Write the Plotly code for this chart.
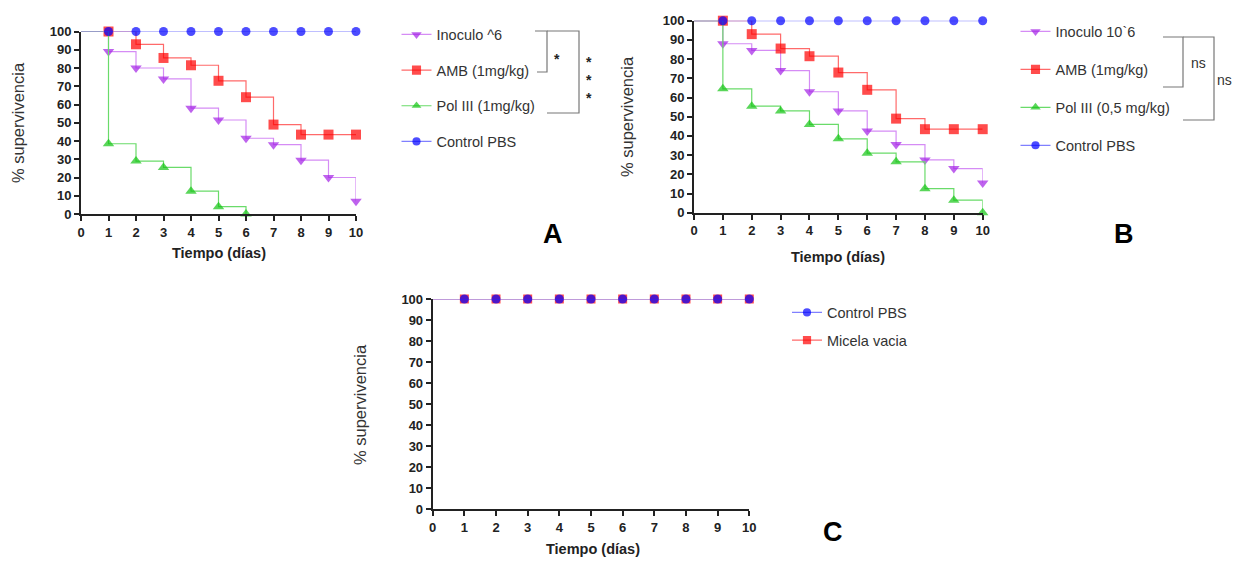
import plotly.graph_objects as go

# ---------------- data ----------------
days = [0, 1, 2, 3, 4, 5, 6, 7, 8, 9, 10]
x_ticks = [0, 1, 2, 3, 4, 5, 6, 7, 8, 9, 10]
y_ticks = [0, 10, 20, 30, 40, 50, 60, 70, 80, 90, 100]

# Panel A
A_inoculo = [100, 89, 80, 74, 58, 51.5, 41.5, 38, 29.5, 20, 7]
A_amb = [100, 100, 93, 85.5, 81.5, 73, 64, 49, 43.5, 43.5, 43.5]
A_pol_days = [0, 1, 2, 3, 4, 5, 6]
A_pol = [100, 38.5, 29, 25.5, 12.5, 4, 0]
A_ctrl = [100, 100, 100, 100, 100, 100, 100, 100, 100, 100, 100]

# Panel B
B_inoculo = [100, 88, 84.5, 74, 63, 53, 42.5, 35.5, 27.5, 23, 15.5]
B_amb = [100, 100, 93, 85.5, 81.5, 73, 64, 49, 43.5, 43.5, 43.5]
B_pol = [100, 64.5, 55.5, 53, 46, 38.5, 31, 26.5, 12.5, 6.5, 0]
B_ctrl = [100, 100, 100, 100, 100, 100, 100, 100, 100, 100, 100]

# Panel C
C_ctrl = [100, 100, 100, 100, 100, 100, 100, 100, 100, 100, 100]
C_micela = [100, 100, 100, 100, 100, 100, 100, 100, 100, 100, 100]

names_A = ["Inoculo ^6", "AMB (1mg/kg)", "Pol III (1mg/kg)", "Control PBS"]
names_B = ["Inoculo 10`6", "AMB (1mg/kg)", "Pol III (0,5 mg/kg)", "Control PBS"]
names_C = ["Control PBS", "Micela vacia"]

# ---------------- styles ----------------
# page body has an 8px margin; the figure fills the rest of the 1241x565 window
OFF = 8
W, H = 1241 - 2 * OFF, 565 - 2 * OFF
FONT = "Arial, Liberation Sans, sans-serif"
PURPLE, PURPLE_L = "#A21FE6", "#D58CF5"
RED, RED_L = "#FF0000", "#FF6A6A"
GREEN, GREEN_L = "#14C414", "#6ADB6A"
BLUE, BLUE_L = "#0000FF", "#8080FF"


def msizes(n, s):
    return [0] + [s] * (n - 1)


def px(x):
    return (x - OFF) / W


def py(y):
    return 1 - (y - OFF) / H


fig = go.Figure()


def add_series(xs, ys, name, color, lcolor, symbol, size, xa, ya, legend, rank):
    fig.add_trace(go.Scatter(
        x=xs, y=ys, name=name, mode="lines+markers",
        line=dict(shape="hv", color=lcolor, width=1.2),
        marker=dict(symbol=symbol, color=color, size=msizes(len(xs), size),
                    line=dict(width=0)),
        xaxis=xa, yaxis=ya, legend=legend, legendrank=rank,
        legendgroup=legend + name, cliponaxis=False, showlegend=True,
    ))


# Panel A
add_series(days, A_inoculo, names_A[0], PURPLE, PURPLE_L, "triangle-down", 10, "x", "y", "legend", 1)
add_series(days, A_amb, names_A[1], RED, RED_L, "square", 10, "x", "y", "legend", 2)
add_series(A_pol_days, A_pol, names_A[2], GREEN, GREEN_L, "triangle-up", 10, "x", "y", "legend", 3)
add_series(days, A_ctrl, names_A[3], BLUE, BLUE_L, "circle", 9, "x", "y", "legend", 4)

# Panel B
add_series(days, B_inoculo, names_B[0], PURPLE, PURPLE_L, "triangle-down", 10, "x2", "y2", "legend2", 1)
add_series(days, B_amb, names_B[1], RED, RED_L, "square", 10, "x2", "y2", "legend2", 2)
add_series(days, B_pol, names_B[2], GREEN, GREEN_L, "triangle-up", 10, "x2", "y2", "legend2", 3)
add_series(days, B_ctrl, names_B[3], BLUE, BLUE_L, "circle", 9, "x2", "y2", "legend2", 4)

# Panel C (red underneath blue)
add_series(days, C_micela, names_C[1], RED, RED_L, "square", 9, "x3", "y3", "legend3", 2)
add_series(days, C_ctrl, names_C[0], BLUE, BLUE_L, "circle", 9, "x3", "y3", "legend3", 1)

# ---------------- axes ----------------
tickfont = dict(family=FONT, size=13, color="#222", weight="bold")


def xaxis(d, anchor):
    return dict(domain=d, anchor=anchor, range=[0, 10], tickvals=x_ticks,
                ticktext=[str(v) for v in x_ticks], ticks="outside", ticklen=5,
                tickwidth=1.5, tickcolor="#222", showline=True, linewidth=2,
                linecolor="#222", showgrid=False, zeroline=False, tickfont=tickfont,
                automargin=False)


def yaxis(d, anchor):
    return dict(domain=d, anchor=anchor, range=[0, 100], tickvals=y_ticks,
                ticktext=[str(v) for v in y_ticks], ticks="outside", ticklen=5,
                tickwidth=1.5, tickcolor="#222", showline=True, linewidth=2,
                linecolor="#222", showgrid=False, zeroline=False, tickfont=tickfont,
                automargin=False)


# pixel geometry of each plot area (window pixels)
A_x = [px(81), px(356)]
A_y = [py(214), py(31.5)]
B_x = [px(694), px(982.7)]
B_y = [py(212.7), py(20.7)]
C_x = [px(432.7), px(749.3)]
C_y = [py(509.3), py(299)]

legfont = dict(family=FONT, size=14.5, color="#333")


def legend(x, y, gap):
    return dict(x=x, y=y, xanchor="left", yanchor="top", font=legfont,
                bgcolor="rgba(0,0,0,0)", traceorder="grouped",
                tracegroupgap=gap, itemwidth=30)


fig.update_layout(
    width=W, height=H, autosize=False,
    margin=dict(l=0, r=0, t=0, b=0),
    paper_bgcolor="white", plot_bgcolor="white",
    xaxis=xaxis(A_x, "y"), yaxis=yaxis(A_y, "x"),
    xaxis2=xaxis(B_x, "y2"), yaxis2=yaxis(B_y, "x2"),
    xaxis3=xaxis(C_x, "y3"), yaxis3=yaxis(C_y, "x3"),
    legend=legend(px(396.5), py(18.5), 13.8),
    legend2=legend(px(1015.5), py(15.5), 16.1),
    legend3=legend(px(787), py(296.5), 5.8),
    showlegend=True,
)

# ---------------- annotations ----------------
ann = []
titlefont = dict(family=FONT, size=14.5, color="#222", weight="bold")
ylabfont = dict(family=FONT, size=16.5, color="#333")
for cx, cy in [(219, 253), (838, 257), (593, 548.5)]:
    ann.append(dict(x=px(cx), y=py(cy), xref="paper", yref="paper", text="Tiempo (días)",
                    showarrow=False, font=titlefont, xanchor="center", yanchor="middle"))
for cx, cy in [(18, 123), (627, 116), (360, 405)]:
    ann.append(dict(x=px(cx), y=py(cy), xref="paper", yref="paper", text="% supervivencia",
                    showarrow=False, font=ylabfont, textangle=-90,
                    xanchor="center", yanchor="middle"))
for t, cx, cy in [("A", 553, 234), ("B", 1124, 234), ("C", 833, 532)]:
    ann.append(dict(x=px(cx), y=py(cy), xref="paper", yref="paper", text=t,
                    showarrow=False, font=dict(family=FONT, size=27, color="black", weight="bold"),
                    xanchor="center", yanchor="middle"))

# significance labels
sigfont = dict(family=FONT, size=14, color="#222", weight="bold")
ann.append(dict(x=px(557), y=py(59), xref="paper", yref="paper", text="*", showarrow=False,
                font=sigfont, xanchor="center", yanchor="middle"))
ann.append(dict(x=px(589), y=py(80), xref="paper", yref="paper", text="*<br>*<br>*",
                showarrow=False, font=sigfont, xanchor="center", yanchor="middle"))
nsfont = dict(family=FONT, size=14, color="#333")
ann.append(dict(x=px(1198), y=py(63), xref="paper", yref="paper", text="ns", showarrow=False,
                font=nsfont, xanchor="center", yanchor="middle"))
ann.append(dict(x=px(1224), y=py(80), xref="paper", yref="paper", text="ns", showarrow=False,
                font=nsfont, xanchor="center", yanchor="middle"))
fig.update_layout(annotations=ann)


# bracket shapes
def bracket(pts):
    path = "M " + " L ".join(f"{px(x)},{py(y)}" for x, y in pts)
    return dict(type="path", path=path, xref="paper", yref="paper",
                line=dict(color="#777", width=1.2))


shapes = [
    bracket([(535, 31), (547, 31), (547, 72), (537, 72)]),
    bracket([(547, 31), (579, 31), (579, 113), (547, 113)]),
    bracket([(1163, 37), (1183, 37), (1183, 87), (1163, 87)]),
    bracket([(1183, 37), (1214, 37), (1214, 120), (1183, 120)]),
]
fig.update_layout(shapes=shapes)

fig.write_html("out.html")
